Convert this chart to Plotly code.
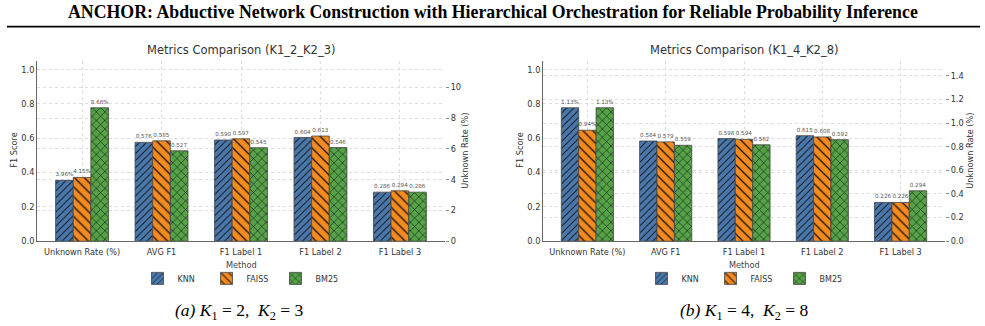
import plotly.graph_objects as go

categories = ["Unknown Rate (%)", "AVG F1", "F1 Label 1", "F1 Label 2", "F1 Label 3"]
methods = ["KNN", "FAISS", "BM25"]

# (a) K1=2, K2=3
unknown_a = {"KNN": 3.96, "FAISS": 4.15, "BM25": 8.68}
f1_a = {
    "KNN":   [0.576, 0.590, 0.604, 0.286],
    "FAISS": [0.585, 0.597, 0.613, 0.294],
    "BM25":  [0.527, 0.545, 0.546, 0.286],
}
# (b) K1=4, K2=8
unknown_b = {"KNN": 1.13, "FAISS": 0.94, "BM25": 1.13}
f1_b = {
    "KNN":   [0.584, 0.598, 0.615, 0.226],
    "FAISS": [0.579, 0.594, 0.608, 0.226],
    "BM25":  [0.559, 0.562, 0.592, 0.294],
}
titles = ["Metrics Comparison (K1_2_K2_3)", "Metrics Comparison (K1_4_K2_8)"]

colors = {"KNN": "#4a78ad", "FAISS": "#f58a1f", "BM25": "#55a247"}
shapes = {"KNN": "/", "FAISS": "\\", "BM25": "x"}
psize = {"KNN": 5, "FAISS": 7, "BM25": 6}
W, H = 985, 326
FONT = "DejaVu Sans"
TF = 8.2
bw = 0.222
offsets = {"KNN": -0.333, "FAISS": -0.111, "BM25": 0.111}

fig = go.Figure()

panels = [
    dict(unknown=unknown_a, f1=f1_a, xa="x", ya="y", ya2="y2", legend="legend"),
    dict(unknown=unknown_b, f1=f1_b, xa="x2", ya="y3", ya2="y4", legend="legend2"),
]

for p in panels:
    for m in methods:
        marker = dict(
            color=colors[m],
            line=dict(color="#444444", width=0.8),
            pattern=dict(shape=shapes[m], fgcolor="#111111", bgcolor=colors[m],
                         size=psize[m], solidity=0.18, fillmode="replace"),
        )
        # F1 bars (left axis)
        fig.add_trace(go.Bar(
            x=list(range(1, len(categories))), y=p["f1"][m], name=m,
            xaxis=p["xa"], yaxis=p["ya"], width=bw, offset=offsets[m],
            marker=marker, legend=p["legend"], showlegend=True,
            text=[f"{v:.3f}" for v in p["f1"][m]], textposition="outside",
            constraintext="none",
            textfont=dict(size=5.6, color="#555555", family=FONT),
            cliponaxis=False,
        ))
        # Unknown rate bars (right axis)
        fig.add_trace(go.Bar(
            x=[0], y=[p["unknown"][m]], name=m,
            xaxis=p["xa"], yaxis=p["ya2"], width=bw, offset=offsets[m],
            marker=marker, legend=p["legend"], showlegend=False,
            text=[f"{p['unknown'][m]:.2f}%"], textposition="outside",
            constraintext="none",
            textfont=dict(size=5.6, color="#555555", family=FONT),
            cliponaxis=False,
        ))

xdom = [[37 / W, 445 / W], [543 / W, 945 / W]]
ydom = [(H - 245) / H, (H - 62) / H]

grid = dict(showgrid=True, gridcolor="#dedede", griddash="dot", gridwidth=1)
xcommon = dict(range=[-0.567, 4.567], tickvals=list(range(len(categories))), ticktext=categories,
               tickfont=dict(size=TF, color="#333333", family=FONT), showline=True,
               linecolor="#666666", linewidth=1, ticks="", zeroline=False,
               ticklabelstandoff=3, **grid)
ycommon = dict(range=[0, 1.05], tickvals=[0, 0.2, 0.4, 0.6, 0.8, 1.0], tickformat=".1f",
               tickfont=dict(size=TF, color="#333333", family=FONT), showline=True,
               linecolor="#666666", linewidth=1, ticks="", zeroline=False, **grid)

umax_a = max(unknown_a.values()) * 1.35
umax_b = max(unknown_b.values()) * 1.35

legcommon = dict(orientation="h", y=(H - 268) / H, yanchor="top",
                 font=dict(size=8, color="#333333", family=FONT), bgcolor="rgba(0,0,0,0)",
                 itemwidth=30, tracegroupgap=0, entrywidth=24)

fig.update_layout(
    width=W, height=H, margin=dict(l=0, r=0, t=0, b=0),
    paper_bgcolor="white", plot_bgcolor="white", barmode="overlay",
    font=dict(family=FONT, color="#333333"),
    xaxis=dict(domain=xdom[0], anchor="y", **xcommon),
    xaxis2=dict(domain=xdom[1], anchor="y3", **xcommon),
    yaxis=dict(domain=ydom, anchor="x", **ycommon),
    yaxis3=dict(domain=ydom, anchor="x2", **ycommon),
    yaxis2=dict(overlaying="y", side="right", anchor="x", range=[0, umax_a],
                tickvals=[0, 2, 4, 6, 8, 10], ticks="outside", ticklen=3, tickcolor="#888888",
                tickfont=dict(size=TF, color="#333333", family=FONT), showline=False,
                zeroline=False, **grid),
    yaxis4=dict(overlaying="y3", side="right", anchor="x2", range=[0, umax_b],
                tickvals=[0, 0.2, 0.4, 0.6, 0.8, 1.0, 1.2, 1.4], tickformat=".1f",
                ticks="outside", ticklen=3, tickcolor="#888888",
                tickfont=dict(size=TF, color="#333333", family=FONT), showline=False,
                zeroline=False, **grid),
    legend=dict(x=241 / W, xanchor="center", **legcommon),
    legend2=dict(x=745 / W, xanchor="center", **legcommon),
)

ann = []
ann.append(dict(text="<b>ANCHOR: Abductive Network Construction with Hierarchical Orchestration for Reliable Probability Inference</b>",
                x=0.5, y=(H - 12) / H, xref="paper", yref="paper", showarrow=False,
                font=dict(family="Liberation Serif", size=17.8, color="black"), xanchor="center", yanchor="middle"))
centers = [241 / W, 744 / W]
for i, t in enumerate(titles):
    ann.append(dict(text=t, x=centers[i], y=(H - 51) / H, xref="paper", yref="paper", showarrow=False,
                    font=dict(size=11.5, color="#333333", family=FONT), xanchor="center", yanchor="middle"))
    ann.append(dict(text="Method", x=centers[i], y=(H - 269) / H, xref="paper", yref="paper", showarrow=False,
                    font=dict(size=TF, color="#444444", family=FONT), xanchor="center", yanchor="middle"))
for xpos, txt in [(14, "F1 Score"), (520, "F1 Score"), (465, "Unknown Rate (%)"), (970, "Unknown Rate (%)")]:
    ann.append(dict(text=txt, x=xpos / W, y=(H - 153) / H, xref="paper", yref="paper", showarrow=False,
                    textangle=-90, xanchor="center", yanchor="middle",
                    font=dict(size=TF, color="#333333", family=FONT)))
caps = ["<i>(a)</i> <i>K</i><sub>1</sub> = 2,  <i>K</i><sub>2</sub> = 3",
        "<i>(b)</i> <i>K</i><sub>1</sub> = 4,  <i>K</i><sub>2</sub> = 8"]
capx = [239 / W, 744 / W]
for i, c in enumerate(caps):
    ann.append(dict(text=c, x=capx[i], y=(H - 316) / H, xref="paper", yref="paper", showarrow=False,
                    font=dict(family="Liberation Serif", size=17.5, color="black"), xanchor="center", yanchor="middle"))
fig.update_layout(annotations=ann)

fig.add_shape(type="line", xref="paper", yref="paper", x0=7 / W, x1=980 / W,
              y0=(H - 27) / H, y1=(H - 27) / H, line=dict(color="black", width=1.6))

fig.write_html("out.html")
